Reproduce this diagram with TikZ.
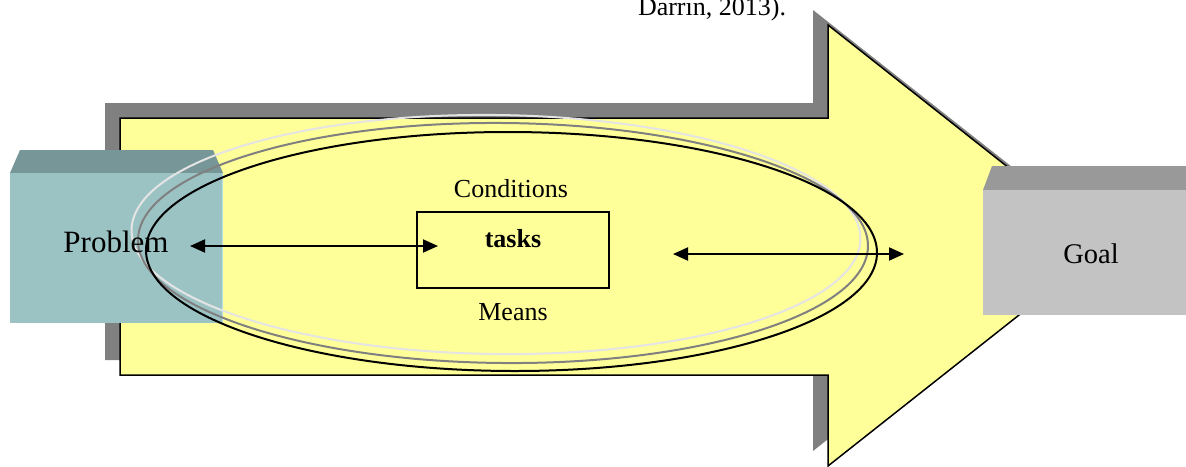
\documentclass[tikz,border=0pt]{standalone}
\usepackage{fontspec}
\setmainfont{Liberation Serif}
\usetikzlibrary{arrows.meta}
\definecolor{arrowyellow}{HTML}{FFFF99}
\definecolor{shadowgray}{HTML}{808080}
\definecolor{probfront}{HTML}{9CC3C4}
\definecolor{probtop}{HTML}{769697}
\definecolor{probedge}{HTML}{B8E2E2}
\definecolor{goalfront}{HTML}{C3C3C3}
\definecolor{goaltop}{HTML}{999999}
\definecolor{ellgray}{HTML}{808080}
\definecolor{elllight}{HTML}{E4E4E4}
\tikzset{
  dbl/.style={line width=2pt, {Triangle[length=15pt,width=13pt]}-{Triangle[length=15pt,width=13pt]}},
  txt/.style={anchor=base, inner sep=0pt},
  ell/.style={line width=2pt},
}
\begin{document}
\begin{tikzpicture}[x=1pt,y=-1pt]
\useasboundingbox (0,0) rectangle (1186,466);
% shadow of big arrow
\fill[shadowgray] (105,103) -- (813,103) -- (813,10) -- (1092,230) -- (813,451) -- (813,360) -- (105,360) -- cycle;
% big arrow
\draw[fill=arrowyellow, line width=1.5pt, line join=miter] (120,118) -- (828,118) -- (828,25) -- (1107,245.5) -- (828,466) -- (828,375) -- (120,375) -- cycle;
% Problem box
\fill[probtop] (20,150) -- (213,150) -- (223,173) -- (10,173) -- cycle;
\fill[probfront] (10,173) rectangle (223,323);
\draw[probedge, line width=1pt] (222.5,173) -- (222.5,323);
% ellipses
\draw[ell, elllight, rotate around={-0.7:(496,234.5)}] (496,234.5) ellipse [x radius=364.5, y radius=119.5];
\draw[ell, ellgray, rotate around={-0.5:(503,243)}] (503,243) ellipse [x radius=365, y radius=120];
\draw[ell, black, rotate around={-0.2:(511.5,251.5)}] (511.5,251.5) ellipse [x radius=365.5, y radius=119.5];
% Goal box
\fill[goaltop] (992,166) -- (1186,166) -- (1186,190) -- (983,190) -- cycle;
\fill[goalfront] (983,190) rectangle (1186,315);
% texts
\node[txt, font=\fontsize{31}{36}\selectfont] (problem) at (116,252) {Problem};
\node[txt, font=\fontsize{28.5}{34}\selectfont] (goal) at (1091,263) {Goal};
\node[draw, line width=1.5pt, minimum width=192pt, minimum height=76pt, inner sep=0pt] (taskbox) at (513,250) {};
\node[txt, font=\fontsize{26}{30}\selectfont\bfseries] (tasks) at (513,247) {tasks};
\node[txt, font=\fontsize{26}{30}\selectfont] (cond) at (511,197) {Conditions};
\node[txt, font=\fontsize{26}{30}\selectfont] (means) at (513,320) {Means};
\node[txt, font=\fontsize{26}{30}\selectfont] (cite) at (712,15) {Darrın, 2013).};
% connectors
\coordinate (a1) at (190,246);
\coordinate (a2) at (438,246);
\coordinate (b1) at (673,254);
\coordinate (b2) at (904,254);
\draw[dbl] (a1) -- (a2);
\draw[dbl] (b1) -- (b2);
\end{tikzpicture}
\end{document}
